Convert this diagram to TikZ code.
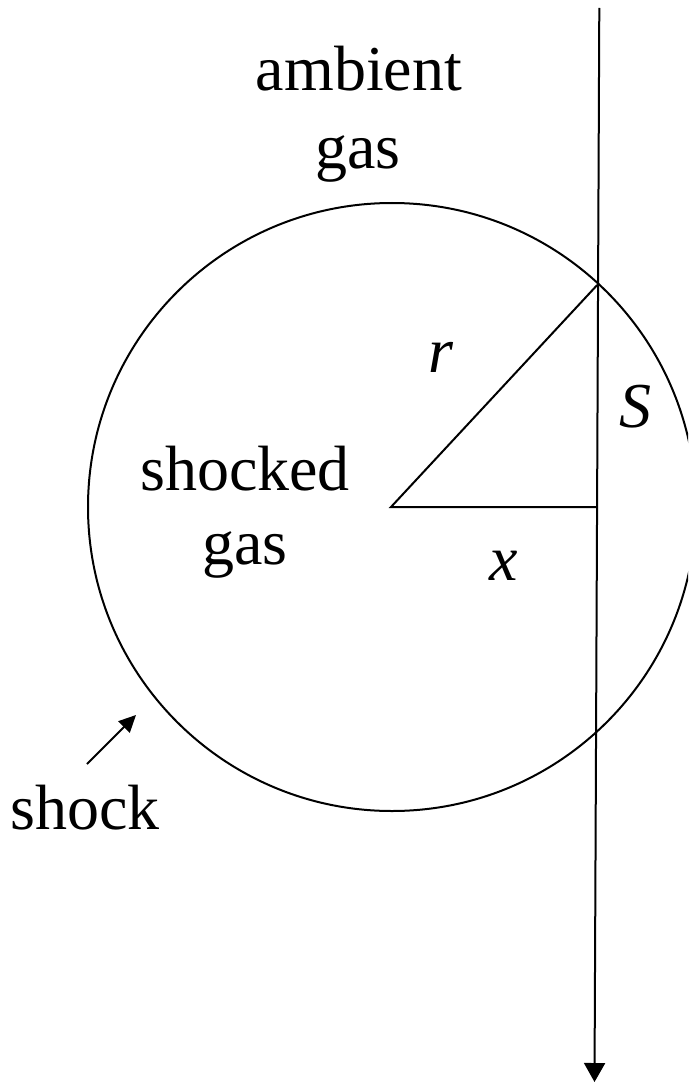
\documentclass[tikz,border=0pt]{standalone}
\usepackage{fontspec}
\setmainfont{Liberation Serif}
\usetikzlibrary{arrows.meta}
\begin{document}
\begin{tikzpicture}[x=1pt,y=-1pt,
  lbl/.style={anchor=base,inner sep=0pt,font=\fontsize{64}{76}\selectfont},
  thin line/.style={line width=2pt},
  bigarrow/.style={-{Triangle[length=19pt,width=21pt]}},
  smallarrow/.style={-{Triangle[length=17pt,width=16pt]}}]
\useasboundingbox (0,0) rectangle (688,1083);
\clip (0,0) rectangle (688,1083);
% geometry
\coordinate (C) at (391,507);
\coordinate (top) at (599.3,8);
\coordinate (bot) at (594.5,1082);
\coordinate (P) at (597.2,285);
\coordinate (F) at (596.6,507);
\coordinate (stail) at (87,764);
\coordinate (stip) at (136,715);
% shock circle
\draw[thin line] (392,507) circle[radius=304];
% line of sight
\draw[thin line,bigarrow] (top) -- (bot);
% triangle
\draw[thin line] (F) -- (C) -- (P);
% labels
\node[lbl] (amb) at (359,91) {ambient};
\node[lbl] (ambgas) at (358,169) {gas};
\node[lbl] (sh) at (245,490) {shocked};
\node[lbl] (shgas) at (245,564) {gas};
\node[lbl] (r) at (441,372) {\textit{r}};
\node[lbl] (S) at (635,427) {\textit{S}};
\node[lbl] (x) at (504,580) {\textit{x}};
\node[lbl] (shock) at (85,829) {shock};
\draw[thin line,smallarrow] (stail) -- (stip);
\end{tikzpicture}
\end{document}
